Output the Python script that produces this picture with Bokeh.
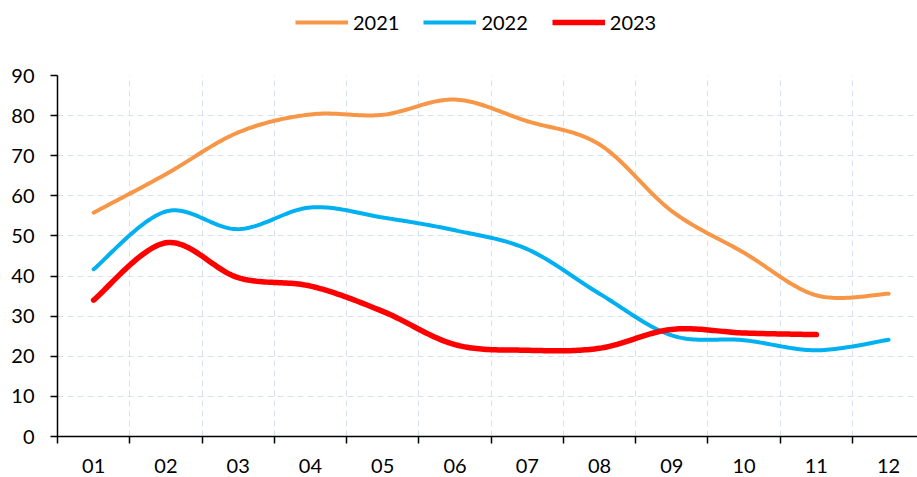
import numpy as np
from bokeh.plotting import figure
from bokeh.layouts import column
from bokeh.models import Range1d, FixedTicker, Legend, LegendItem
from bokeh.embed import file_html
from bokeh.resources import INLINE

# ---- data ----
months = ["01", "02", "03", "04", "05", "06", "07", "08", "09", "10", "11", "12"]
y2021 = [55.8, 65.4, 75.8, 80.3, 80.2, 84.0, 78.6, 72.8, 56.2, 45.8, 35.2, 35.6]
y2022 = [41.7, 56.1, 51.7, 57.1, 54.6, 51.4, 46.7, 35.6, 25.2, 24.0, 21.5, 24.1]
y2023 = [34.0, 48.3, 39.6, 37.5, 31.2, 22.9, 21.5, 22.0, 26.7, 25.8, 25.4]
series_names = ["2021", "2022", "2023"]
y_ticks = [0, 10, 20, 30, 40, 50, 60, 70, 80, 90]

FONT = "Lato"
FS = "20px"


def smooth(xs, ys, n=30):
    """Excel-style smoothed line: cubic Bezier through each point."""
    xs = np.asarray(xs, float)
    ys = np.asarray(ys, float)
    m = len(xs)
    px, py = [], []
    for i in range(m - 1):
        x0, y0 = xs[i], ys[i]
        x3, y3 = xs[i + 1], ys[i + 1]
        xm, ym = (xs[i - 1], ys[i - 1]) if i > 0 else (x0, y0)
        xp, yp = (xs[i + 2], ys[i + 2]) if i + 2 < m else (x3, y3)
        x1, y1 = x0 + (x3 - xm) / 6.0, y0 + (y3 - ym) / 6.0
        x2, y2 = x3 - (xp - x0) / 6.0, y3 - (yp - y0) / 6.0
        t = np.linspace(0, 1, n, endpoint=(i == m - 2))
        a = (1 - t) ** 3
        b = 3 * (1 - t) ** 2 * t
        c = 3 * (1 - t) * t ** 2
        d = t ** 3
        px.extend(a * x0 + b * x1 + c * x2 + d * x3)
        py.extend(a * y0 + b * y1 + c * y2 + d * y3)
    return px, py


W = 917
TOP_H = 50
MAIN_H = 427   # total 477

# ---------- legend strip ----------
pl = figure(width=W, height=TOP_H, output_backend="svg", toolbar_location=None,
            x_range=Range1d(0, 1), y_range=Range1d(1000, 1001),
            x_axis_type=None, y_axis_type=None,
            min_border_left=0, min_border_right=0, min_border_top=0,
            min_border_bottom=0)
pl.outline_line_color = None
pl.xgrid.visible = False
pl.ygrid.visible = False

# ---------- main chart ----------
p = figure(width=W, height=MAIN_H, output_backend="svg", toolbar_location=None,
           x_range=Range1d(-0.5, 11.4), y_range=Range1d(0, 90),
           min_border_left=57, min_border_right=0, min_border_top=25,
           min_border_bottom=41)
p.outline_line_color = None

centers = list(range(len(months)))
bounds = [i - 0.5 for i in range(len(months) + 1)]

xa = p.xaxis[0]
xa.ticker = FixedTicker(ticks=centers, minor_ticks=bounds)
xa.major_label_overrides = {i: m for i, m in enumerate(months)}
xa.major_tick_line_color = None
xa.major_tick_out = 0
xa.major_tick_in = 0
xa.major_label_standoff = 15
xa.major_label_text_font = FONT
xa.major_label_text_font_size = FS
xa.major_label_text_color = "black"
xa.minor_tick_out = 7
xa.minor_tick_in = 0
xa.minor_tick_line_color = "black"
xa.minor_tick_line_width = 1.5
xa.axis_line_color = "black"
xa.axis_line_width = 1.5

ya = p.yaxis[0]
ya.ticker = FixedTicker(ticks=y_ticks)
ya.minor_tick_line_color = None
ya.major_tick_out = 7
ya.major_tick_in = 0
ya.major_tick_line_width = 1.5
ya.major_tick_line_color = "black"
ya.axis_line_color = "black"
ya.axis_line_width = 1.5
ya.major_label_standoff = 16
ya.major_label_text_font = FONT
ya.major_label_text_font_size = FS
ya.major_label_text_color = "black"

grid_col = "#d6e2f0"
p.xgrid.grid_line_color = None
p.xgrid.minor_grid_line_color = grid_col
p.xgrid.minor_grid_line_dash = "6 4"
p.xgrid.minor_grid_line_width = 1
p.ygrid.grid_line_color = grid_col
p.ygrid.grid_line_dash = "6 4"
p.ygrid.grid_line_width = 1

colors = ["#F79646", "#00B0F0", "#FF0000"]
widths = [4, 4, 5.5]
items = []
for name, ys, col, lw in zip(series_names, [y2021, y2022, y2023], colors, widths):
    xs = list(range(len(ys)))
    sx, sy = smooth(xs, ys)
    p.line(sx, sy, line_color=col, line_width=lw, line_cap="round",
           line_join="round")
    # same series in the legend strip (its y range keeps it out of view)
    proxy = pl.line(xs, ys, line_color=col, line_width=lw)
    items.append(LegendItem(label=name, renderers=[proxy]))

lg = Legend(items=items, orientation="horizontal", location=(238, 16))
lg.glyph_width = 53
lg.glyph_height = 20
lg.label_standoff = 5
lg.spacing = 24
lg.padding = 0
lg.margin = 0
lg.background_fill_alpha = 0
lg.border_line_color = None
lg.label_text_font = FONT
lg.label_text_font_size = FS
lg.label_text_color = "black"
pl.add_layout(lg, "center")

open("out.html", "w").write(file_html(column(pl, p, spacing=0), INLINE))
